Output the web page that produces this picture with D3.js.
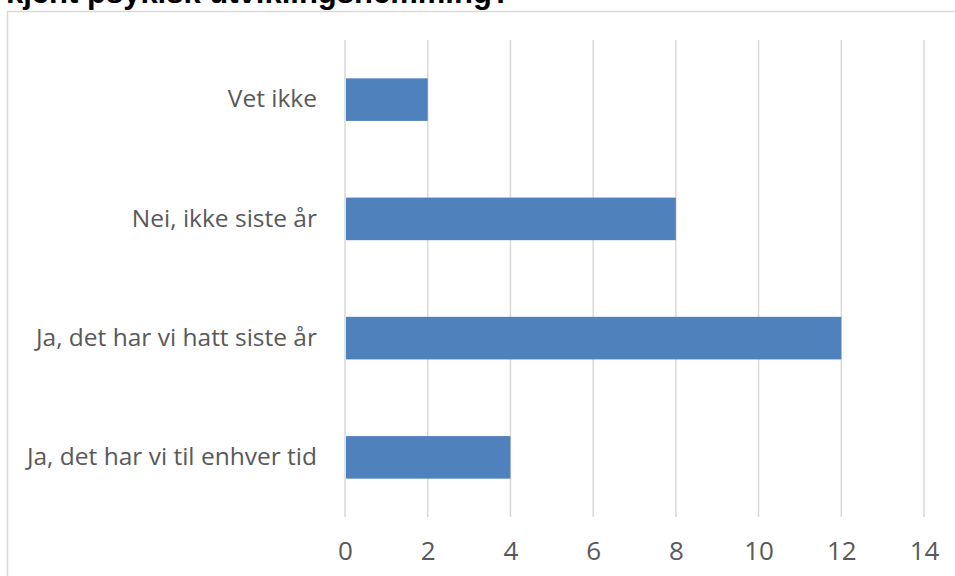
<!DOCTYPE html>
<html>
<head>
<meta charset="utf-8">
<script src="https://cdn.jsdelivr.net/npm/d3@7"></script>
<style>
  body { margin: 0; background: #fff; }
  svg { display: block; }
</style>
</head>
<body>
<svg id="chart" width="955" height="576"></svg>
<script>
// data (top to bottom)
const categories = ["Vet ikke", "Nei, ikke siste år", "Ja, det har vi hatt siste år", "Ja, det har vi til enhver tid"];
const values = [2, 8, 12, 4];
const xTicks = [0, 2, 4, 6, 8, 10, 12, 14];
const title = "kjent psykisk utviklingshemming?";

const svg = d3.select("#chart");
const margin = { top: 40, right: 31, bottom: 59, left: 345 };
const width = 955 - margin.left - margin.right;
const height = 576 - margin.top - margin.bottom;

// chart border
svg.append("rect")
  .attr("x", 7.5).attr("y", 11.5)
  .attr("width", 960).attr("height", 600)
  .attr("fill", "none")
  .attr("stroke", "#d9d9d9")
  .attr("stroke-width", 1.5);

// title (cut off at the top, like the source)
svg.append("text")
  .attr("x", 6)
  .attr("y", 3)
  .attr("font-family", "Liberation Sans, Arial, sans-serif")
  .attr("font-weight", "bold")
  .attr("font-size", 31)
  .attr("fill", "#000")
  .text(title);

const chart = svg.append("g").attr("transform", `translate(${margin.left},${margin.top})`);

const x = d3.scaleLinear().domain([0, 14]).range([0, width]);
const y = d3.scaleBand()
  .domain(categories)
  .range([0, height])
  .paddingInner(0.643)
  .paddingOuter(0.3215);

// gridlines
chart.selectAll(".grid")
  .data(xTicks)
  .enter().append("line")
  .attr("class", "grid")
  .attr("x1", d => x(d)).attr("x2", d => x(d))
  .attr("y1", 0).attr("y2", height)
  .attr("stroke", "#d9d9d9")
  .attr("stroke-width", 1.5);

// bars
chart.selectAll(".bar")
  .data(categories.map((c, i) => ({ c, v: values[i] })))
  .enter().append("rect")
  .attr("class", "bar")
  .attr("x", x(0) + 1)
  .attr("y", d => y(d.c))
  .attr("width", d => x(d.v) - x(0) - 1)
  .attr("height", y.bandwidth())
  .attr("fill", "#4f81bd");

// x axis
const xAxis = chart.append("g")
  .attr("transform", `translate(0,${height})`)
  .call(d3.axisBottom(x).tickValues(xTicks).tickSize(0).tickPadding(25));
xAxis.select(".domain").remove();
xAxis.selectAll("text")
  .attr("font-family", "Open Sans, sans-serif")
  .attr("font-size", 26)
  .attr("fill", "#595959");

// y axis
const yAxis = chart.append("g")
  .call(d3.axisLeft(y).tickSize(0).tickPadding(28));
yAxis.select(".domain").remove();
yAxis.selectAll("text")
  .attr("font-family", "Open Sans, sans-serif")
  .attr("font-size", 24.5)
  .attr("fill", "#595959");
</script>
</body>
</html>
